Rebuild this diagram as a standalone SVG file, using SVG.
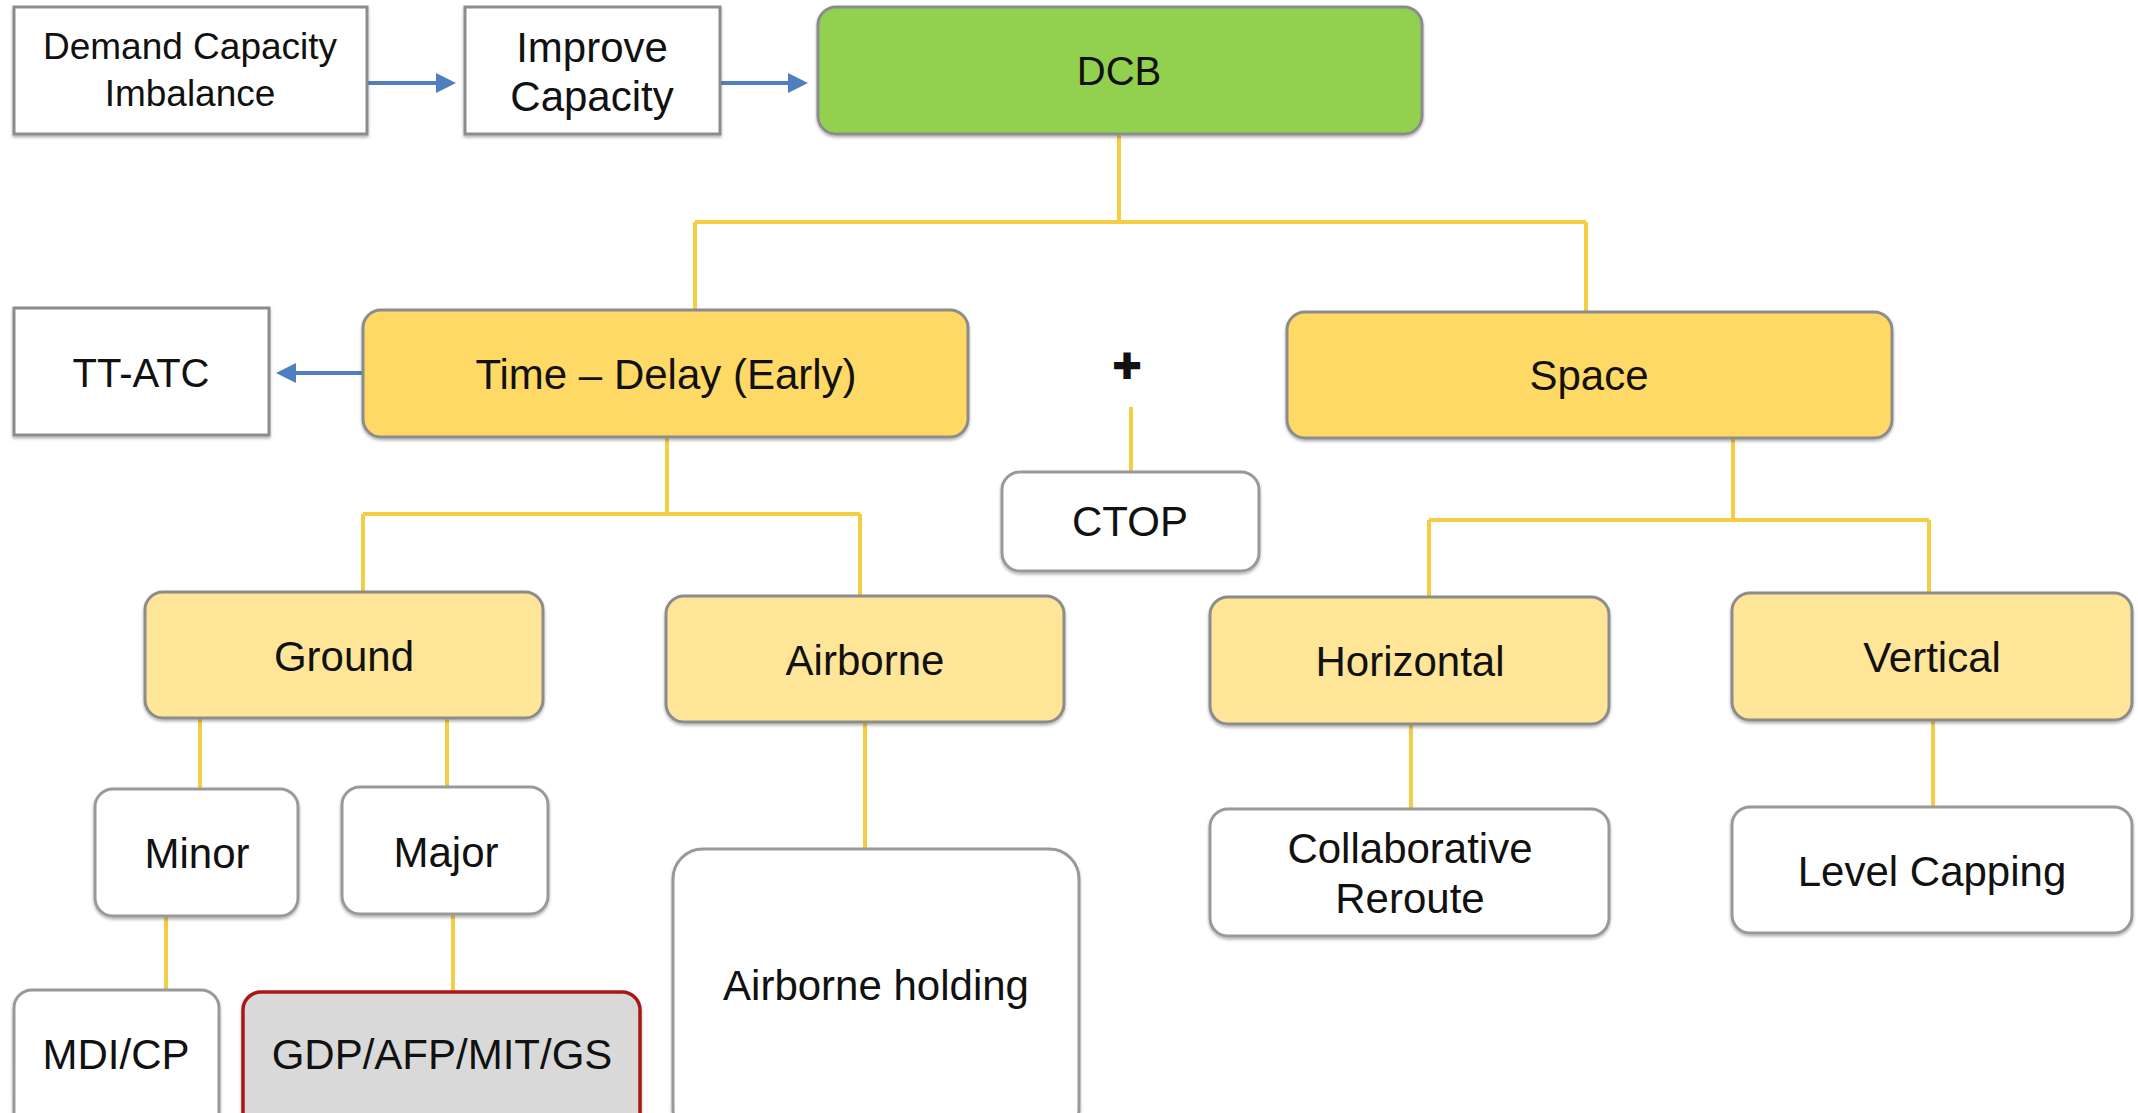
<svg xmlns="http://www.w3.org/2000/svg" width="2138" height="1113" viewBox="0 0 2138 1113">
<style>
text{font-family:"Liberation Sans",Arial,sans-serif;font-size:42px;fill:#111;text-anchor:middle}
.sq{fill:#fff;stroke:#8c8c8c;stroke-width:3}
.rw{fill:#fff;stroke:#999;stroke-width:3}
.y1{fill:#ffd966;stroke:#8c8c8c;stroke-width:3}
.y2{fill:#ffe597;stroke:#8c8c8c;stroke-width:3}
.g{fill:#92d050;stroke:#8c8c8c;stroke-width:3}
.red{fill:#d9d9d9;stroke:#a81818;stroke-width:3.5}
.yl{fill:none;stroke:#f5cc45;stroke-width:4}
.bl{fill:none;stroke:#4f7fc0;stroke-width:4;marker-end:url(#ah)}
</style>
<defs>
<marker id="ah" markerWidth="5" markerHeight="5" refX="4" refY="2.5" orient="auto" markerUnits="strokeWidth">
<path d="M0,0 L5,2.5 L0,5 Z" fill="#4f7fc0"/>
</marker>
<filter id="sh" x="-5%" y="-5%" width="110%" height="115%">
<feDropShadow dx="0" dy="2" stdDeviation="1.5" flood-color="#000" flood-opacity="0.3"/>
</filter>
</defs>
<rect width="2138" height="1113" fill="#fff"/>
<g id="connectors">
<path class="yl" d="M1119 134V222M695 222H1586M695 222V310M1586 222V312"/>
<path class="yl" d="M667 437V514M363 514H860M363 514V592M860 514V596"/>
<path class="yl" d="M1733 438V520M1429 520H1929M1429 520V597M1929 520V593"/>
<path class="yl" d="M200 718V789M447 718V787M166 916V990M453 914V992"/>
<path class="yl" d="M865 722V849M1411 724V809M1933 720V807M1131 407V472"/>
<path class="bl" d="M367 83H452"/>
<path class="bl" d="M720 83H804"/>
<path class="bl" d="M363 373H280"/>
</g>
<g id="demand"><rect class="sq" x="14" y="7" width="353" height="127" filter="url(#sh)"/><text x="190" y="59" style="font-size:37px">Demand Capacity</text><text x="190" y="106" style="font-size:37px">Imbalance</text></g>
<g id="improve"><rect class="sq" x="465" y="7" width="255" height="127" filter="url(#sh)"/><text x="592" y="62">Improve</text><text x="592" y="111">Capacity</text></g>
<g id="dcb"><rect class="g" x="818" y="7" width="604" height="127" rx="18" filter="url(#sh)"/><text x="1119" y="85" style="font-size:40px">DCB</text></g>
<g id="ttatc"><rect class="sq" x="14" y="308" width="255" height="127" filter="url(#sh)"/><text x="141" y="387" style="font-size:40px">TT-ATC</text></g>
<g id="time"><rect class="y1" x="363" y="310" width="605" height="127" rx="18" filter="url(#sh)"/><text x="666" y="389">Time – Delay (Early)</text></g>
<g id="plus"><text x="1127" y="382" style="font-size:48px;font-weight:bold;stroke:#111;stroke-width:2">+</text></g>
<g id="ctop"><rect class="rw" x="1002" y="472" width="257" height="99" rx="18" filter="url(#sh)"/><text x="1130" y="536">CTOP</text></g>
<g id="space"><rect class="y1" x="1287" y="312" width="605" height="126" rx="18" filter="url(#sh)"/><text x="1589" y="390">Space</text></g>
<g id="ground"><rect class="y2" x="145" y="592" width="398" height="126" rx="18" filter="url(#sh)"/><text x="344" y="671">Ground</text></g>
<g id="airborne"><rect class="y2" x="666" y="596" width="398" height="126" rx="18" filter="url(#sh)"/><text x="865" y="675">Airborne</text></g>
<g id="horizontal"><rect class="y2" x="1210" y="597" width="399" height="127" rx="18" filter="url(#sh)"/><text x="1410" y="676">Horizontal</text></g>
<g id="vertical"><rect class="y2" x="1732" y="593" width="400" height="127" rx="18" filter="url(#sh)"/><text x="1932" y="672">Vertical</text></g>
<g id="minor"><rect class="rw" x="95" y="789" width="203" height="127" rx="18" filter="url(#sh)"/><text x="197" y="868">Minor</text></g>
<g id="major"><rect class="rw" x="342" y="787" width="206" height="127" rx="18" filter="url(#sh)"/><text x="446" y="867">Major</text></g>
<g id="mdicp"><rect class="rw" x="14" y="990" width="205" height="150" rx="18" filter="url(#sh)"/><text x="116" y="1069">MDI/CP</text></g>
<g id="gdp"><rect class="red" x="243" y="992" width="397" height="150" rx="18" filter="url(#sh)"/><text x="442" y="1069">GDP/AFP/MIT/GS</text></g>
<g id="airholding"><rect class="rw" x="673" y="849" width="406" height="290" rx="30" filter="url(#sh)"/><text x="876" y="1000">Airborne holding</text></g>
<g id="collab"><rect class="rw" x="1210" y="809" width="399" height="127" rx="18" filter="url(#sh)"/><text x="1410" y="863">Collaborative</text><text x="1410" y="913">Reroute</text></g>
<g id="level"><rect class="rw" x="1732" y="807" width="400" height="126" rx="18" filter="url(#sh)"/><text x="1932" y="886">Level Capping</text></g>
</svg>
